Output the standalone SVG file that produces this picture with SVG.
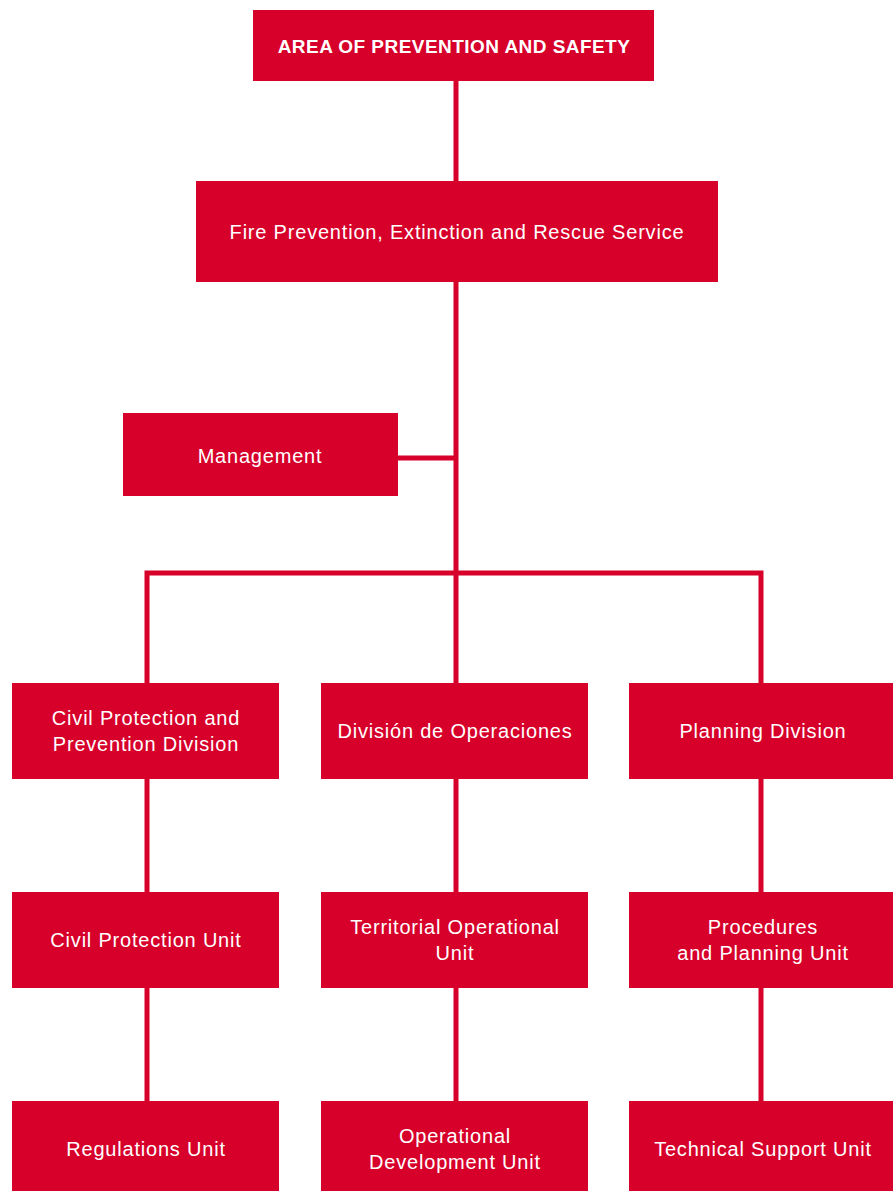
<svg xmlns="http://www.w3.org/2000/svg" width="893" height="1191" viewBox="0 0 893 1191">
<style>
.b{fill:#D6002A}
.t{fill:#fff;font-family:"Liberation Sans",Arial,sans-serif;font-size:20px;letter-spacing:0.8px;text-anchor:middle}
.h{font-weight:bold;font-size:19px;letter-spacing:0.45px}
.c{stroke:#D6002A;stroke-width:5;fill:none}
</style>
<rect width="893" height="1191" fill="#fff"/>
<g id="connectors" class="c">
<line x1="456" y1="81" x2="456" y2="181"/>
<line x1="456" y1="282" x2="456" y2="683"/>
<line x1="398" y1="458" x2="456" y2="458"/>
<polyline points="147,683 147,573 761,573 761,683"/>
<line x1="147" y1="779" x2="147" y2="892"/>
<line x1="147" y1="988" x2="147" y2="1101"/>
<line x1="456" y1="779" x2="456" y2="892"/>
<line x1="456" y1="988" x2="456" y2="1101"/>
<line x1="761" y1="779" x2="761" y2="892"/>
<line x1="761" y1="988" x2="761" y2="1101"/>
</g>
<g id="area"><rect class="b" x="253" y="10" width="401" height="71"/><text class="t h" x="454" y="53">AREA OF PREVENTION AND SAFETY</text></g>
<g id="fire"><rect class="b" x="196" y="181" width="522" height="101"/><text class="t" x="457" y="239">Fire Prevention, Extinction and Rescue Service</text></g>
<g id="management"><rect class="b" x="123" y="413" width="275" height="83"/><text class="t" x="260" y="463">Management</text></g>
<g id="civil-div"><rect class="b" x="12" y="683" width="267" height="96"/><text class="t" x="146" y="725">Civil Protection and</text><text class="t" x="146" y="751">Prevention Division</text></g>
<g id="ops-div"><rect class="b" x="321" y="683" width="267" height="96"/><text class="t" x="455" y="738">División de Operaciones</text></g>
<g id="plan-div"><rect class="b" x="629" y="683" width="264" height="96"/><text class="t" x="763" y="738">Planning Division</text></g>
<g id="civil-unit"><rect class="b" x="12" y="892" width="267" height="96"/><text class="t" x="146" y="947">Civil Protection Unit</text></g>
<g id="terr-unit"><rect class="b" x="321" y="892" width="267" height="96"/><text class="t" x="455" y="934">Territorial Operational</text><text class="t" x="455" y="960">Unit</text></g>
<g id="proc-unit"><rect class="b" x="629" y="892" width="264" height="96"/><text class="t" x="763" y="934">Procedures</text><text class="t" x="763" y="960">and Planning Unit</text></g>
<g id="reg-unit"><rect class="b" x="12" y="1101" width="267" height="90"/><text class="t" x="146" y="1156">Regulations Unit</text></g>
<g id="opdev-unit"><rect class="b" x="321" y="1101" width="267" height="90"/><text class="t" x="455" y="1143">Operational</text><text class="t" x="455" y="1169">Development Unit</text></g>
<g id="tech-unit"><rect class="b" x="629" y="1101" width="264" height="90"/><text class="t" x="763" y="1156">Technical Support Unit</text></g>
</svg>
